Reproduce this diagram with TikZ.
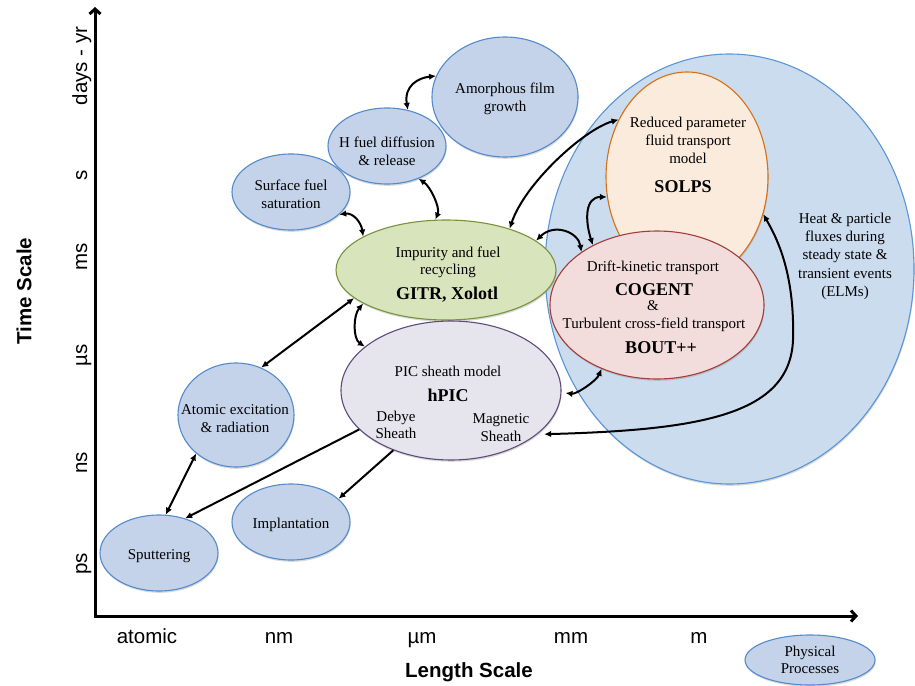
\documentclass[tikz,border=0pt]{standalone}
\usepackage{fontspec}
\setmainfont{Liberation Serif}
\setsansfont{Liberation Sans}
\usetikzlibrary{shapes.geometric,arrows.meta,shadows}

\definecolor{smallfill}{RGB}{196,211,233}
\definecolor{smalledge}{RGB}{84,139,204}
\definecolor{bigfill}{RGB}{204,220,239}
\definecolor{bigedge}{RGB}{91,150,213}
\definecolor{greenfill}{RGB}{216,228,188}
\definecolor{greenedge}{RGB}{119,147,60}
\definecolor{picfill}{RGB}{230,228,236}
\definecolor{picedge}{RGB}{96,74,123}
\definecolor{solpsfill}{RGB}{251,235,220}
\definecolor{solpsedge}{RGB}{214,112,20}
\definecolor{cogfill}{RGB}{242,221,220}
\definecolor{cogedge}{RGB}{160,62,56}

\begin{document}
\begin{tikzpicture}[x=1pt,y=-1pt,
  blob/.style 2 args={ellipse, inner sep=0pt, line width=1.1pt,
    minimum width=#1, minimum height=#2,
    drop shadow={shadow xshift=0.6pt, shadow yshift=-1.8pt, opacity=0.3}},
  smallblob/.style 2 args={blob={#1}{#2}, fill=smallfill, draw=smalledge},
  lbl/.style={anchor=base, inner sep=0pt, font=\fontsize{15}{18}\selectfont},
  blbl/.style={anchor=base, inner sep=0pt, font=\bfseries\fontsize{18}{21}\selectfont},
  axlbl/.style={anchor=base, inner sep=0pt, font=\sffamily\fontsize{20.5}{24}\selectfont},
  conn/.style={line width=2pt, {Latex[length=7pt,width=6.5pt]}-{Latex[length=7pt,width=6.5pt]}},
  conn1/.style={line width=2pt, -{Latex[length=7pt,width=6.5pt]}}
]
\useasboundingbox (0,0) rectangle (915,685);

% axes
\coordinate (ytop) at (95,7);
\coordinate (orig) at (95,616);
\coordinate (xend) at (858,616);
\draw[line width=3pt, line join=miter,
  {Straight Barb[length=5pt,width=11pt]}-{Straight Barb[length=5pt,width=11pt]}]
  (ytop) -- (orig) -- (xend);

% axis tick labels
\node[axlbl, rotate=90] (yt1) at (87,66) {days - yr};
\node[axlbl, rotate=90] (yt2) at (87,175) {s};
\node[axlbl, rotate=90] (yt3) at (87,257) {ms};
\node[axlbl, rotate=90] (yt4) at (87,355) {µs};
\node[axlbl, rotate=90] (yt5) at (87,463) {ns};
\node[axlbl, rotate=90] (yt6) at (87,564) {ps};
\node[rotate=90, inner sep=0pt, font=\sffamily\bfseries\fontsize{20.5}{24}\selectfont] (ylab) at (24,291) {Time Scale};

\node[axlbl] (xt1) at (147,643) {atomic};
\node[axlbl] (xt2) at (279,643) {nm};
\node[axlbl] (xt3) at (422,643) {µm};
\node[axlbl] (xt4) at (571,643) {mm};
\node[axlbl] (xt5) at (699,643) {m};
\node[axlbl, font=\sffamily\bfseries\fontsize{20.5}{24}\selectfont] (xlab) at (469,677) {Length Scale};

% big ellipse and codes
\node[blob={369pt}{430pt}, fill=bigfill, draw=bigedge] (big) at (729.5,269) {};
\node[blob={162pt}{210pt}, fill=solpsfill, draw=solpsedge] (solps) at (687,177) {};
\node[blob={214pt}{148pt}, fill=cogfill, draw=cogedge] (cog) at (657,305) {};
\node[blob={220pt}{100pt}, fill=greenfill, draw=greenedge] (green) at (446,270) {};
\node[blob={220pt}{139pt}, fill=picfill, draw=picedge] (hpic) at (451,390.5) {};

% small process ellipses
\node[smallblob={146pt}{120pt}] (amor) at (505,97) {};
\node[smallblob={118pt}{76pt}] (hfuel) at (387,146) {};
\node[smallblob={118pt}{76pt}] (surf) at (291,192) {};
\node[smallblob={116pt}{104pt}] (atom) at (236,415) {};
\node[smallblob={118pt}{76pt}] (sput) at (159,553) {};
\node[smallblob={118pt}{76pt}] (impl) at (291,522) {};
\node[smallblob={130pt}{50pt}] (phys) at (810,660) {};

% texts
\node[lbl] (amor1) at (505,93) {Amorphous film};
\node[lbl] (amor2) at (505,111) {growth};
\node[lbl] (hf1) at (387,147) {H fuel diffusion};
\node[lbl] (hf2) at (387,165) {\& release};
\node[lbl] (sf1) at (291,190) {Surface fuel};
\node[lbl] (sf2) at (291,208) {saturation};
\node[lbl] (gr1) at (448,257) {Impurity and fuel};
\node[lbl] (gr2) at (448,274) {recycling};
\node[blbl] (gr3) at (447,299) {GITR, Xolotl};
\node[lbl] (so1) at (688,127) {Reduced parameter};
\node[lbl] (so2) at (688,145) {fluid transport};
\node[lbl] (so3) at (688,163) {model};
\node[blbl] (so4) at (683,192) {SOLPS};
\node[lbl] (he1) at (845,223) {Heat \& particle};
\node[lbl] (he2) at (845,241) {fluxes during};
\node[lbl] (he3) at (845,259) {steady state \&};
\node[lbl] (he4) at (845,278) {transient events};
\node[lbl] (he5) at (845,296) {(ELMs)};
\node[lbl] (co1) at (653,271) {Drift-kinetic transport};
\node[blbl] (co2) at (654,295) {COGENT};
\node[lbl] (co3) at (653,310) {\&};
\node[lbl] (co4) at (654,328) {Turbulent cross-field transport};
\node[blbl] (co5) at (661,353) {BOUT++};
\node[lbl] (pi1) at (448,376) {PIC sheath model};
\node[blbl] (pi2) at (448,401) {hPIC};
\node[lbl] (pi3) at (396,421) {Debye};
\node[lbl] (pi4) at (396,438) {Sheath};
\node[lbl] (pi5) at (501,423) {Magnetic};
\node[lbl] (pi6) at (501,441) {Sheath};
\node[lbl] (at1) at (235,414) {Atomic excitation};
\node[lbl] (at2) at (235,432) {\& radiation};
\node[lbl] (im1) at (291,528) {Implantation};
\node[lbl] (sp1) at (159,559) {Sputtering};
\node[lbl] (ph1) at (810,656) {Physical};
\node[lbl] (ph2) at (810,673) {Processes};

% connectors
\draw[conn] (hfuel.60) .. controls +(-4,-24) and +(-18,2) .. (amor.163);
\draw[conn] (surf.335) .. controls +(14,-2) and +(-2,-14) .. (green.158);
\draw[conn] (green.102) .. controls +(5,-12) and +(12,8) .. (hfuel.314);
\draw[conn] (green.33) .. controls +(15,-45) and +(-35,10) .. (solps.140);
\draw[conn] (green.18) .. controls +(18,-18) and +(-3,-20) .. (cog.145);
\draw[conn] (solps.194) .. controls +(-22,0) and +(-8,-25) .. (cog.137);
\draw[conn] (green.202) .. controls +(-10,12) and +(-12,-8) .. (hpic.153);
\draw[conn] (atom.62) -- (green.197);
\draw[conn, shorten <=4pt] (hpic.359) .. controls +(15,2) and +(-5,12) .. (cog.229);
\draw[conn, shorten <=7pt] (hpic.333) .. controls (700,430) and (790,415) .. (793,340)
   .. controls (795,270) and (775,235) .. (solps.334);
\draw[conn1] (hpic.203) -- (sput.53);
\draw[conn1] (hpic.226) -- (impl.26);
\draw[conn] (atom.224) -- (sput.80);
\end{tikzpicture}
\end{document}
